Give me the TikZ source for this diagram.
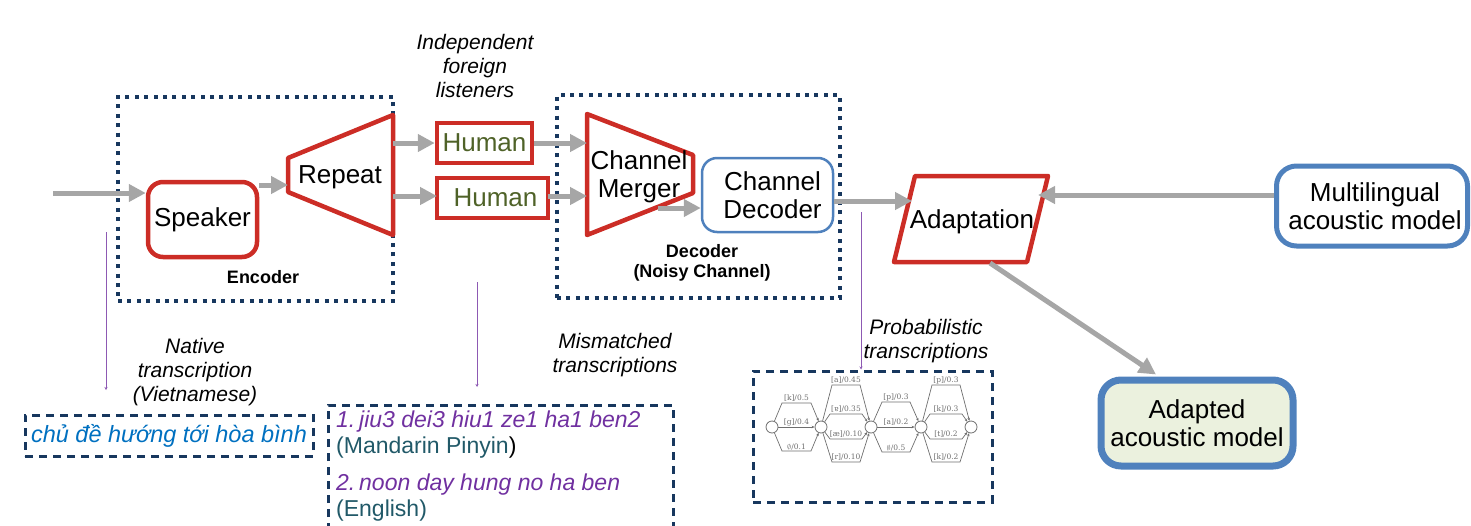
\documentclass[tikz,border=0pt]{standalone}
\usepackage{fontspec}
\setmainfont{Liberation Sans}
\newfontfamily\latfont{DejaVu Serif}
\usetikzlibrary{arrows.meta,calc}
\definecolor{bred}{RGB}{204,45,38}
\definecolor{navy}{RGB}{23,55,94}
\definecolor{agray}{RGB}{166,166,166}
\definecolor{bblue}{RGB}{79,129,189}
\definecolor{hgreen}{RGB}{79,98,40}
\definecolor{tpurple}{RGB}{112,48,160}
\definecolor{tteal}{RGB}{33,89,104}
\definecolor{vblue}{RGB}{0,112,192}
\definecolor{lgreen}{RGB}{235,241,222}
\definecolor{latgray}{RGB}{110,110,110}
\tikzset{
  big/.style={font=\fontsize{26}{28.5}\selectfont, align=center},
  redbox/.style={draw=bred, line width=4.5pt},
  garrow/.style={draw=agray, line width=5pt, -{Triangle[length=17pt,width=17pt]}},
  parrow/.style={draw=tpurple!80, line width=0.8pt, -{Stealth[length=3pt,width=3pt]}},
  dotbox/.style={draw=navy, line width=4pt, dash pattern=on 4pt off 5.4pt},
  dashbox/.style={draw=navy, line width=3pt, dash pattern=on 8pt off 6pt},
  ital/.style={font=\fontsize{21}{24}\selectfont\itshape, align=center},
  boldlab/.style={font=\fontsize{18}{20}\selectfont\bfseries, align=center},
  trans/.style={font=\fontsize{23}{26}\selectfont, anchor=west, inner sep=0pt},
  latnode/.style={circle, draw=latgray, line width=0.8pt, minimum size=12pt, inner sep=0pt, fill=white},
  latedge/.style={draw=latgray, line width=0.7pt, -{Stealth[length=3pt,width=2.5pt]}},
  latlab/.style={font=\latfont\fontsize{7.5}{8}\selectfont, text=latgray, inner sep=1pt, anchor=south},
}
\begin{document}
\begin{tikzpicture}[x=1pt,y=-1pt]
\useasboundingbox (0,0) rectangle (1471,525);

% dotted group boxes
\node[dotbox, minimum width=275pt, minimum height=204pt, inner sep=0pt] (enc) at (255.5,199) {};
\node[dotbox, minimum width=283pt, minimum height=203pt, inner sep=0pt] (dec) at (698.5,196.5) {};

% Speaker
\node[redbox, rounded corners=15pt, minimum width=109pt, minimum height=75pt, big] (spk) at (202.5,219.5) {Speaker};

% Repeat trapezoid
\coordinate (rep1) at (288,158);
\coordinate (rep2) at (393,115);
\coordinate (rep3) at (393,235);
\coordinate (rep4) at (288,192);
\draw[redbox, line join=round] (rep1) -- (rep2) -- (rep3) -- (rep4) -- cycle;
\node[big] (reptxt) at (340,177) {Repeat};

% Humans
\node[redbox, minimum width=95pt, minimum height=40pt, inner sep=0pt, big, text=hgreen] (h1) at (484.5,143) {Human};
\node[redbox, minimum width=111pt, minimum height=40pt, inner sep=0pt, big, text=hgreen] (h2) at (492.5,198) {\hspace*{6pt}Human};

% Channel merger trapezoid
\coordinate (mg1) at (587,114);
\coordinate (mg2) at (693,155);
\coordinate (mg3) at (693,193);
\coordinate (mg4) at (587,235);
\draw[redbox, line join=round] (mg1) -- (mg2) -- (mg3) -- (mg4) -- cycle;

% Channel decoder
\node[draw=bblue, line width=2.5pt, rounded corners=15pt, minimum width=131pt, minimum height=74pt, big] (cd) at (767.5,195) {\hspace*{10pt}Channel\\\hspace*{10pt}Decoder};

% Adaptation parallelogram
\coordinate (ad1) at (915,176);
\coordinate (ad2) at (1048,176);
\coordinate (ad3) at (1027,262);
\coordinate (ad4) at (894,262);
\draw[redbox, line join=round] (ad1) -- (ad2) -- (ad3) -- (ad4) -- cycle;
\node[big] (adtxt) at (972,222) {Adaptation};

% Multilingual and adapted
\node[draw=bblue, line width=5pt, rounded corners=20pt, minimum width=191pt, minimum height=80pt, big] (ml) at (1372,206) {\hspace*{6pt}Multilingual\\\hspace*{6pt}acoustic model};
\node[draw=bblue, fill=lgreen, line width=7pt, rounded corners=20pt, minimum width=192pt, minimum height=86pt, big] (aam) at (1197,423) {Adapted\\acoustic model};

% arrows
\coordinate (in0) at (53,193);
\draw[garrow] (in0) -- (in0 -| spk.west);
\coordinate (sr) at (288,185);
\draw[garrow] (sr -| spk.east) -- (sr);
\draw[garrow] (h1.west -| rep2) -- (h1.west);
\coordinate (rh2) at (437,196);
\draw[garrow] (rh2 -| rep2) -- (rh2);
\draw[garrow] (h1.east) -- (h1.east -| mg1);
\coordinate (hm2) at (548,196);
\draw[garrow] (hm2) -- (hm2 -| mg1);
\coordinate (mgout) at (658,208);
\draw[garrow] (mgout) -- (mgout -| cd.west);
\coordinate (adin) at (912,201);
\draw[garrow] (adin -| cd.east) -- (adin);
\coordinate (adr) at (1038,195);
\draw[garrow] (adr -| ml.west) -- (adr);
\coordinate (adb) at (990,263);
\draw[garrow] (adb) -- ([xshift=-41pt,yshift=2pt]aam.north);

% merger text over the shape
\node[big] (mgtxt) at (639,177) {Channel\\Merger};

% labels
\node[boldlab] (enclab) at (263,277) {Encoder};
\node[boldlab] (declab) at (702,263) {Decoder\\(Noisy Channel)};
\node[ital] (indep) at (475,66) {Independent\\foreign\\listeners};
\node[ital] (native) at (195,372) {Native\\transcription\\(Vietnamese)};
\node[ital] (mism) at (615,355) {Mismatched\\transcriptions};
\node[ital] (prob) at (926,341) {Probabilistic\\transcriptions};

% transcription boxes
\node[dashbox, minimum width=288pt, minimum height=41pt, inner sep=0pt, font=\fontsize{23.5}{26}\selectfont\itshape, text=vblue] (viet) at (169,435.5) {chủ đề hướng tới hòa bình};
\draw[dashbox] (328,545) -- (328,405) -- (673,405) -- (673,545);
\node[trans, text=tpurple, font=\fontsize{23}{26}\selectfont\itshape] (m1) at (336,422) {1.\,jiu3 dei3 hiu1 ze1 ha1 ben2};
\node[trans, text=tteal] (m1b) at (336,448) {(Mandarin Pinyin\textcolor{black}{)}};
\node[trans, text=tpurple, font=\fontsize{23}{26}\selectfont\itshape] (m2) at (336,485) {2.\,noon day hung no ha ben};
\node[trans, text=tteal] (m2b) at (336,511) {(English)};

% probabilistic box
\node[dashbox, minimum width=239pt, minimum height=131pt, inner sep=0pt] (pbox) at (872.5,436.5) {};

% purple pointers
\coordinate (pv) at (106,232);
\draw[parrow] (pv) -- (106,390);
\coordinate (pm) at (477,282);
\draw[parrow] (pm) -- (477,387);
\coordinate (pp) at (861,212);
\draw[parrow] (pp) -- (pp |- pbox.north);

% lattice
\node[latnode] (n1) at (772,427) {};
\node[latnode] (n2) at (821,427) {};
\node[latnode] (n3) at (871,427) {};
\node[latnode] (n4) at (921,427) {};
\node[latnode] (n5) at (971,427) {};
% n1 -> n2
\draw[latedge] (n1) -- (782,403) -- (811,403) -- (n2);
\node[latlab] (l1) at (796.5,403) {[k]/0.5};
\draw[latedge] (n1) -- (n2);
\node[latlab] (l2) at (796.5,427) {[g]/0.4};
\draw[latedge] (n1) -- (782,451) -- (811,451) -- (n2);
\node[latlab] (l3) at (796.5,451) {$\emptyset$/0.1};
% n2 -> n3
\draw[latedge] (n2) -- (832,385) -- (860,385) -- (n3);
\node[latlab] (l4) at (846,385) {[a]/0.45};
\draw[latedge] (n2) -- (830,414) -- (862,414) -- (n3);
\node[latlab] (l5) at (846,414) {[ɐ]/0.35};
\draw[latedge] (n2) -- (830,439) -- (862,439) -- (n3);
\node[latlab] (l6) at (846,439) {[æ]/0.10};
\draw[latedge] (n2) -- (832,462) -- (860,462) -- (n3);
\node[latlab] (l7) at (846,462) {[r]/0.10};
% n3 -> n4
\draw[latedge] (n3) -- (882,402) -- (910,402) -- (n4);
\node[latlab] (l8) at (896,402) {[p]/0.3};
\draw[latedge] (n3) -- (n4);
\node[latlab] (l9) at (896,427) {[a]/0.2};
\draw[latedge] (n3) -- (882,452) -- (910,452) -- (n4);
\node[latlab] (l10) at (896,452) {$\emptyset$/0.5};
% n4 -> n5
\draw[latedge] (n4) -- (932,385) -- (960,385) -- (n5);
\node[latlab] (l11) at (946,385) {[p]/0.3};
\draw[latedge] (n4) -- (930,414) -- (962,414) -- (n5);
\node[latlab] (l12) at (946,414) {[k]/0.3};
\draw[latedge] (n4) -- (930,439) -- (962,439) -- (n5);
\node[latlab] (l13) at (946,439) {[t]/0.2};
\draw[latedge] (n4) -- (932,462) -- (960,462) -- (n5);
\node[latlab] (l14) at (946,462) {[k]/0.2};
\end{tikzpicture}
\end{document}
